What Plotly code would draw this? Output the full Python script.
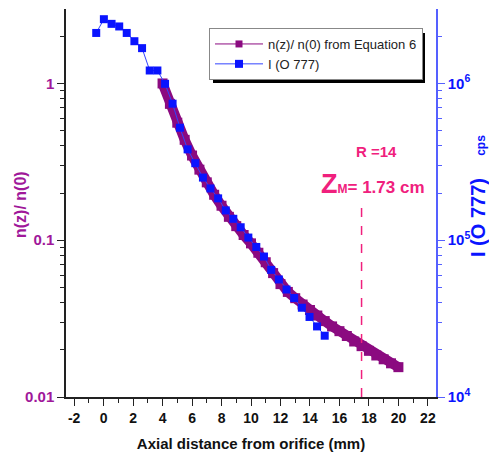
import plotly.graph_objects as go

# ---- data ----
eq_x = [4, 4.5, 5, 5.5, 6, 6.5, 7, 7.5, 8, 8.5, 9, 9.5, 10, 10.5, 11, 11.5, 12,
        12.5, 13, 13.5, 14, 14.5, 15, 15.5, 16, 16.5, 17, 17.5, 18, 18.5, 19, 19.5, 20]
eq_y = [1.000, 0.741, 0.562, 0.437, 0.347, 0.282, 0.234, 0.195, 0.166, 0.141, 0.123,
        0.108, 0.0955, 0.0832, 0.0724, 0.0617, 0.0525, 0.0468, 0.0427, 0.0389, 0.0359,
        0.0331, 0.0305, 0.0282, 0.0263, 0.0245, 0.0226, 0.0211, 0.0197, 0.0184, 0.0174,
        0.0164, 0.0155]

o_x = [-0.5, 0.02, 0.54, 1.06, 1.57, 2.09, 2.61, 3.13, 3.65, 4.17, 4.68, 5.18, 5.70,
       6.22, 6.74, 7.25, 7.77, 8.29, 8.80, 9.30, 9.82, 10.36, 10.88, 11.37, 11.89,
       12.41, 12.93, 13.45, 13.97, 14.48, 15.0]
o_y = [2.10e6, 2.57e6, 2.40e6, 2.31e6, 2.10e6, 1.86e6, 1.68e6, 1.21e6, 1.21e6, 9.95e5,
       7.43e5, 5.22e5, 3.80e5, 3.10e5, 2.51e5, 2.14e5, 1.85e5, 1.55e5, 1.37e5, 1.21e5,
       1.04e5, 9.06e4, 7.87e4, 6.47e4, 5.62e4, 4.85e4, 4.28e4, 3.71e4, 3.24e4, 2.82e4,
       2.46e4]

x_ticks = [-2, 0, 2, 4, 6, 8, 10, 12, 14, 16, 18, 20, 22]
x_minor = [-1, 1, 3, 5, 7, 9, 11, 13, 15, 17, 19, 21]
left_ticks = [0.01, 0.1, 1]
left_labels = ["0.01", "0.1", "1"]
right_ticks = [1e4, 1e5, 1e6]
right_labels = ["10<sup>4</sup>", "10<sup>5</sup>", "10<sup>6</sup>"]
left_minor = [m * d for d in (0.01, 0.1, 1) for m in range(2, 10) if m * d < 3]
right_minor = [m * d for d in (1e4, 1e5, 1e6) for m in range(2, 10) if m * d < 3e6]
marker_x = 17.5
marker_y = [0.01, 0.162]

PURPLE = "#8B0A80"
PURPLE_T = "#A0189A"
BLUE = "#0A14FF"
BLUE_AX = "#5560FF"
PINK = "#F0207D"
FONT = "Liberation Sans, Arial, sans-serif"

# plot-area pixel frame
L, R, T, B = 66, 436, 9, 397


def px(x):
    return (x - L) / (R - L)


def py(y):
    return (B - y) / (B - T)


fig = go.Figure()

# thick equation curve
fig.add_trace(go.Scatter(x=eq_x, y=eq_y, mode="lines+markers",
                         line=dict(color=PURPLE, width=10),
                         marker=dict(symbol="square", size=10, color=PURPLE),
                         showlegend=False, hoverinfo="skip"))
# legend proxy
fig.add_trace(go.Scatter(x=[None], y=[None], mode="lines+markers",
                         name="n(z)/ n(0) from Equation 6",
                         line=dict(color=PURPLE, width=1),
                         marker=dict(symbol="square", size=7, color=PURPLE)))
fig.add_trace(go.Scatter(x=o_x, y=o_y, mode="lines+markers", name="I (O 777)",
                         yaxis="y2",
                         line=dict(color="#3344FF", width=1),
                         marker=dict(symbol="square", size=8, color=BLUE)))

fig.add_trace(go.Scatter(x=[marker_x, marker_x], y=marker_y, mode="lines",
                         line=dict(color=PINK, width=1.5, dash="dash"),
                         showlegend=False, hoverinfo="skip"))

fig.update_layout(
    width=489, height=463,
    margin=dict(l=L, r=489 - R, t=T, b=463 - B),
    paper_bgcolor="white", plot_bgcolor="white",
    font=dict(family=FONT),
    xaxis=dict(range=[-2.55, 22.55], showgrid=False, zeroline=False,
               showline=True, linecolor="#222", linewidth=1.5,
               ticks="outside", ticklen=7, tickwidth=1.3, tickcolor="#222",
               tickvals=x_ticks, ticktext=[str(v) for v in x_ticks],
               tickfont=dict(size=14, color="#111", weight="bold"),
               minor=dict(tickvals=x_minor, ticks="outside", ticklen=4,
                          tickcolor="#222", tickwidth=1.2),
               title=dict(text="Axial distance from orifice (mm)",
                          font=dict(size=15, color="#111", weight="bold"),
                          standoff=14)),
    xaxis2=dict(range=[-2.55, 22.55], overlaying="x", side="top",
                showgrid=False, zeroline=False, showline=True,
                linecolor="#222", linewidth=1.5, ticks="inside", ticklen=6,
                tickvals=x_ticks, showticklabels=False, tickcolor="#222",
                minor=dict(tickvals=x_minor, ticks="inside", ticklen=4,
                           tickcolor="#222")),
    yaxis=dict(type="log", range=[-2, 0.475], showgrid=False, zeroline=False,
               showline=True, linecolor="#222", linewidth=1.5,
               ticks="outside", ticklen=7, tickwidth=1.3, tickcolor="#222",
               tickvals=left_ticks, ticktext=left_labels,
               tickfont=dict(size=15, color=PURPLE_T, weight="bold"),
               minor=dict(tickvals=left_minor, ticks="outside", ticklen=4,
                          tickcolor="#222", tickwidth=1.2)),
    yaxis2=dict(type="log", range=[4, 6.475], overlaying="y", side="right",
                showgrid=False, zeroline=False, showline=True,
                linecolor=BLUE_AX, linewidth=1.5,
                ticks="outside", ticklen=7, tickwidth=1.3, tickcolor=BLUE_AX,
                tickvals=right_ticks, ticktext=right_labels,
                tickfont=dict(size=15, color=BLUE, weight="bold"),
                minor=dict(tickvals=right_minor, ticks="outside", ticklen=4,
                           tickcolor=BLUE_AX, tickwidth=1.2)),
    legend=dict(x=px(209), y=py(28), xanchor="left", yanchor="top",
                bgcolor="white", bordercolor="#888", borderwidth=1,
                font=dict(size=13, color="#222"), tracegroupgap=0,
                itemwidth=48),
    showlegend=True,
)

# legend drop shadow
fig.add_shape(type="rect", xref="paper", yref="paper",
              x0=px(213), x1=px(425), y0=py(83), y1=py(33),
              fillcolor="black", line=dict(width=0), layer="above")

fig.add_annotation(text="<b>R =14</b>", x=px(376), y=py(151),
                   xref="paper", yref="paper", showarrow=False,
                   xanchor="center", yanchor="middle",
                   font=dict(size=15, color=PINK))
fig.add_annotation(text='<b><span style="font-size:27px">Z</span>'
                        '<span style="font-size:12px">M</span>= 1.73 cm</b>',
                   x=px(373), y=py(184),
                   xref="paper", yref="paper", showarrow=False,
                   xanchor="center", yanchor="middle",
                   font=dict(size=17, color=PINK))
fig.add_annotation(text="<b>n(z)/ n(0)</b>", x=px(20), y=py(205),
                   xref="paper", yref="paper", showarrow=False, textangle=-90,
                   xanchor="center", yanchor="middle",
                   font=dict(size=16, color=PURPLE_T))
fig.add_annotation(text='<b>I (O 777)\u00a0\u00a0\u00a0\u00a0'
                        '<span style="font-size:12px">cps</span></b>',
                   x=px(478), y=py(196), xref="paper", yref="paper",
                   showarrow=False, textangle=-90,
                   xanchor="center", yanchor="middle",
                   font=dict(size=20, color=BLUE))

fig.write_html("out.html")
